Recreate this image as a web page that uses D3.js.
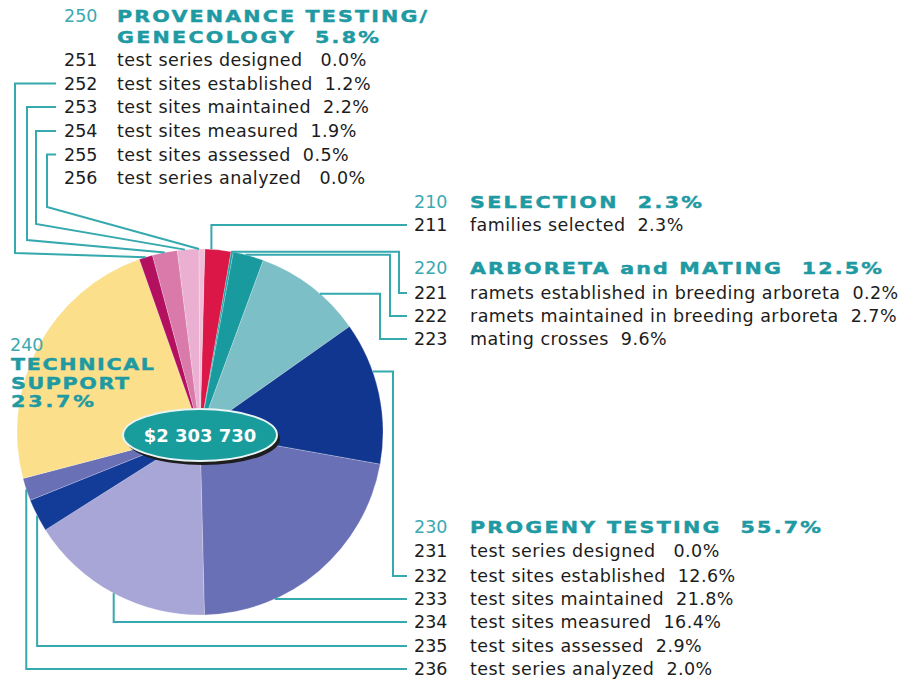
<!DOCTYPE html>
<html>
<head>
<meta charset="utf-8">
<script src="https://cdn.jsdelivr.net/npm/d3@7"></script>
<style>
  body { margin: 0; background: #fff; }
  svg { display: block; }
  text { font-family: "DejaVu Sans", Verdana, sans-serif; white-space: pre; }
</style>
</head>
<body>
<svg width="904" height="681"></svg>
<script>
// group headings
const groupCodes = ["210", "220", "230", "240", "250"];
const groupNames = ["SELECTION", "ARBORETA and MATING", "PROGENY TESTING", "TECHNICAL SUPPORT", "PROVENANCE TESTING/ GENECOLOGY"];
const groupPcts = [2.3, 12.5, 55.7, 23.7, 5.8];

// sub-items, in the order the pie goes round clockwise from 12 o'clock
const itemCodes = ["211", "221", "222", "223", "231", "232", "233", "234", "235", "236", "240", "251", "252", "253", "254", "255", "256"];
const itemNames = ["families selected",
  "ramets established in breeding arboreta", "ramets maintained in breeding arboreta", "mating crosses",
  "test series designed", "test sites established", "test sites maintained", "test sites measured", "test sites assessed", "test series analyzed",
  "technical support",
  "test series designed", "test sites established", "test sites maintained", "test sites measured", "test sites assessed", "test series analyzed"];
const itemPcts = [2.3, 0.2, 2.7, 9.6, 0.0, 12.6, 21.8, 16.4, 2.9, 2.0, 23.7, 0.0, 1.2, 2.2, 1.9, 0.5, 0.0];

const totalLabel = "$2 303 730";

// styles
const sliceColor = {
  "211": "#db1747", "221": "#1c9ea2", "222": "#189a9e", "223": "#7dbfc6",
  "231": "#10368f", "232": "#10368f", "233": "#6a70b6", "234": "#a8a6d7", "235": "#133b98", "236": "#6a70b5",
  "240": "#fbdf8b",
  "251": "#b3115f", "252": "#b3115f", "253": "#d97aab", "254": "#ebb0d1", "255": "#f0bcd7", "256": "#f0bcd7"
};
const teal = "#1f9aa3";
const tealLight = "#3ba9b1";
const lineColor = "#35a9ae";
const ink = "#1c1c1c";

const svg = d3.select("svg");
const cx = 200, cy = 432, r = 183;
const rot = 1.5 * Math.PI / 180;

const data = itemCodes.map((c, i) => ({ code: c, name: itemNames[i], pct: itemPcts[i] }));

const pie = d3.pie().value(d => d.pct).sort(null)
  .startAngle(rot).endAngle(rot + 2 * Math.PI);
const arcs = pie(data);
const arc = d3.arc().innerRadius(0).outerRadius(r);

const gPie = svg.append("g").attr("transform", `translate(${cx},${cy})`);
gPie.selectAll("path")
  .data(arcs.filter(a => a.data.pct > 0))
  .enter()
  .append("path")
  .attr("d", arc)
  .attr("fill", d => sliceColor[d.data.code])
  .attr("stroke", "#fff")
  .attr("stroke-opacity", 0.35)
  .attr("stroke-width", 0.6);

// point on the rim, f = fraction through the slice
function rimPoint(code, f) {
  const a = arcs.find(d => d.data.code === code);
  const ang = a.startAngle + (f == null ? 0.5 : f) * (a.endAngle - a.startAngle);
  return [cx + r * Math.sin(ang), cy - r * Math.cos(ang)];
}

// wide bold heading: font stretched sideways, then spaced to width
const sx = 1.25;
function heading(g, x, y, t, w) {
  g.append("text")
    .attr("transform", `translate(${x},${y}) scale(${sx},1)`)
    .attr("font-size", 16.5).attr("font-weight", "bold")
    .attr("fill", teal).attr("stroke", teal).attr("stroke-width", 0.45)
    .attr("textLength", w / sx).attr("lengthAdjust", "spacing")
    .text(t);
}

// text blocks
const blocks = {
  "250": { numX: 64, textX: 117, titleY: [22, 43], titleW: [310, 262], rowY: [66, 89.5, 113, 137, 160.5, 184] },
  "210": { numX: 414, textX: 470, titleY: [208], titleW: [232], rowY: [231] },
  "220": { numX: 414, textX: 470, titleY: [274], titleW: [412], rowY: [299, 322, 345] },
  "230": { numX: 414, textX: 470, titleY: [533], titleW: [351], rowY: [557, 582, 605, 628, 652, 675] }
};

const connectors = {
  "211": { type: "v", f: 0.25 },
  "221": { type: "h", ex: 399, f: 0 },
  "222": { type: "h", ex: 390, f: 0.4 },
  "223": { type: "h", ex: 380, f: 0.6 },
  "232": { type: "h", ex: 393, f: 0.35 },
  "233": { type: "straight" },
  "234": { type: "v", f: 0.5 },
  "235": { type: "v" },
  "236": { type: "v" },
  "252": { type: "left", ex: 15, by: 253 },
  "253": { type: "left", ex: 27, by: 240 },
  "254": { type: "left", ex: 36, by: 224, f: 0.35 },
  "255": { type: "left", ex: 47, by: 207, f: 0 }
};

const line = d3.line();
const gLines = svg.append("g")
  .attr("fill", "none")
  .attr("stroke", lineColor)
  .attr("stroke-width", 2);

const gText = svg.append("g");
const itemFont = 17.5;

Object.keys(blocks).forEach(gc => {
  const b = blocks[gc];
  const gi = groupCodes.indexOf(gc);
  const pctStr = groupPcts[gi].toFixed(1) + "%";
  let lines;
  if (gc === "250") {
    const parts = groupNames[gi].split("/ ");
    lines = [parts[0] + "/", parts[1] + "  " + pctStr];
  } else {
    lines = [groupNames[gi] + "  " + pctStr];
  }
  gText.append("text")
    .attr("x", b.numX).attr("y", b.titleY[0])
    .attr("font-size", itemFont).attr("fill", tealLight)
    .text(gc);
  lines.forEach((t, k) => heading(gText, b.textX, b.titleY[k], t, b.titleW[k]));

  const items = data.filter(d => d.code.slice(0, 2) === gc.slice(0, 2));
  items.forEach((d, k) => {
    const y = b.rowY[k];
    gText.append("text")
      .attr("x", b.numX).attr("y", y)
      .attr("font-size", itemFont).attr("fill", ink)
      .text(d.code);
    gText.append("text")
      .attr("x", b.textX).attr("y", y)
      .attr("font-size", itemFont).attr("letter-spacing", 0.45).attr("fill", ink)
      .text(d.name + (d.pct === 0 ? "   " : "  ") + d.pct.toFixed(1) + "%");

    const c = connectors[d.code];
    if (!c) return;
    const ly = y - 6;
    const p = rimPoint(d.code, c.f);
    let pts;
    if (c.type === "v") {
      pts = [p, [p[0], ly], [407, ly]];
    } else if (c.type === "h") {
      pts = [p, [c.ex, p[1]], [c.ex, ly], [407, ly]];
    } else if (c.type === "straight") {
      const x0 = cx + Math.sqrt(r * r - (ly - cy) * (ly - cy));
      pts = [[x0, ly], [407, ly]];
    } else {
      pts = [[56, ly], [c.ex, ly], [c.ex, c.by], p];
    }
    gLines.append("path").attr("d", line(pts));
  });
});

// technical support label on the yellow slice
const tsIdx = groupCodes.indexOf("240");
gText.append("text").attr("x", 10).attr("y", 351)
  .attr("font-size", itemFont).attr("fill", tealLight).text("240");
const tsLines = groupNames[tsIdx].split(" ").concat([groupPcts[tsIdx].toFixed(1) + "%"]);
const tsW = [143, 118, 83];
tsLines.forEach((t, k) => heading(gText, 11, 370 + k * 18.5, t, tsW[k]));

// total in the middle
const gTot = svg.append("g");
gTot.append("ellipse")
  .attr("cx", cx + 3).attr("cy", 439).attr("rx", 77).attr("ry", 26)
  .attr("fill", "#1d1d1d");
gTot.append("ellipse")
  .attr("cx", cx).attr("cy", 435).attr("rx", 77).attr("ry", 26)
  .attr("fill", "#189c9c").attr("stroke", "#e8f4f4").attr("stroke-width", 2);
gTot.append("text")
  .attr("x", cx).attr("y", 442)
  .attr("text-anchor", "middle")
  .attr("font-size", 18).attr("font-weight", "bold").attr("fill", "#fff")
  .text(totalLabel);
</script>
</body>
</html>
